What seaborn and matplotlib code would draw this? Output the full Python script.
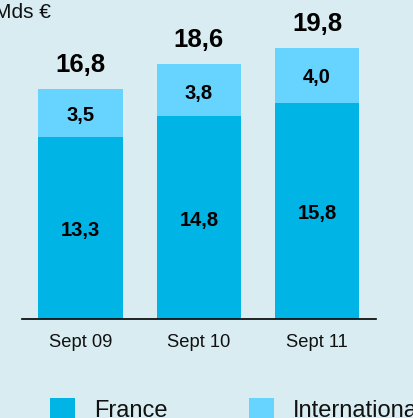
import matplotlib
matplotlib.use("Agg")
import matplotlib.pyplot as plt
import seaborn as sns
import pandas as pd
from matplotlib.patches import Patch

# ---- data ----
periods = ["Sept 09", "Sept 10", "Sept 11"]
france = [13.3, 14.8, 15.8]
international = [3.5, 3.8, 4.0]
totals = [16.8, 18.6, 19.8]
unit_label = "Mds €"
series_names = ["France", "International"]

# ---- style ----
BG = "#D8ECF1"
C_FR = "#00B4E6"
C_INT = "#66D4FF"

sns.set_theme(style="white")
plt.rcParams["font.family"] = ["Liberation Sans", "DejaVu Sans"]

def fmt(v):
    return f"{v:.1f}".replace(".", ",")

df = pd.DataFrame({"period": periods, "france": france,
                   "international": international, "total": totals})
df["stack"] = df["france"] + df["international"]

fig = plt.figure(figsize=(4.14, 4.18), dpi=100, facecolor=BG)
ax = fig.add_axes([22 / 414, (418 - 319) / 418, 354 / 414, 319 / 418])
ax.set_facecolor(BG)

sns.barplot(data=df, x="period", y="stack", color=C_INT, width=0.713,
            saturation=1, linewidth=0, ax=ax)
sns.barplot(data=df, x="period", y="france", color=C_FR, width=0.713,
            saturation=1, linewidth=0, ax=ax)

ax.set_xlim(-0.494, 2.497)
ax.set_ylim(0, 319 / 13.7)

for i, row in df.iterrows():
    ax.annotate(fmt(row["france"]), (i, row["france"] / 2), xytext=(0, -6),
                textcoords="offset points", ha="center", va="baseline",
                fontsize=14.5, fontweight="bold", color="black")
    ax.annotate(fmt(row["international"]),
                (i, row["france"] + row["international"] / 2), xytext=(0, -6),
                textcoords="offset points", ha="center", va="baseline",
                fontsize=14.5, fontweight="bold", color="black")
    ax.annotate(fmt(row["total"]), (i, row["stack"]), xytext=(0, 12.2),
                textcoords="offset points", ha="center", va="baseline",
                fontsize=18.5, fontweight="bold", color="black")

for s in ["top", "right", "left"]:
    ax.spines[s].set_visible(False)
ax.spines["bottom"].set_color("black")
ax.spines["bottom"].set_linewidth(1.2)
ax.set_yticks([])
ax.set_xlabel("")
ax.set_ylabel("")
ax.tick_params(axis="x", length=0, pad=11, labelsize=13.2, colors="#111111")

fig.text(-6 / 414, 1 - 3 / 418, unit_label, ha="left", va="top",
         fontsize=15, color="#111111")

handles = [Patch(facecolor=C_FR, edgecolor="none"),
           Patch(facecolor=C_INT, edgecolor="none")]
fig.legend(handles, series_names, loc="upper left",
           bbox_to_anchor=(50 / 414, 1 - 398 / 418), ncol=2, frameon=False,
           fontsize=17, handlelength=1.06, handleheight=1.06,
           handletextpad=0.8, columnspacing=3.45, borderpad=0,
           borderaxespad=0, labelcolor="#111111")

fig.savefig("out.png", dpi=100, facecolor=BG)
